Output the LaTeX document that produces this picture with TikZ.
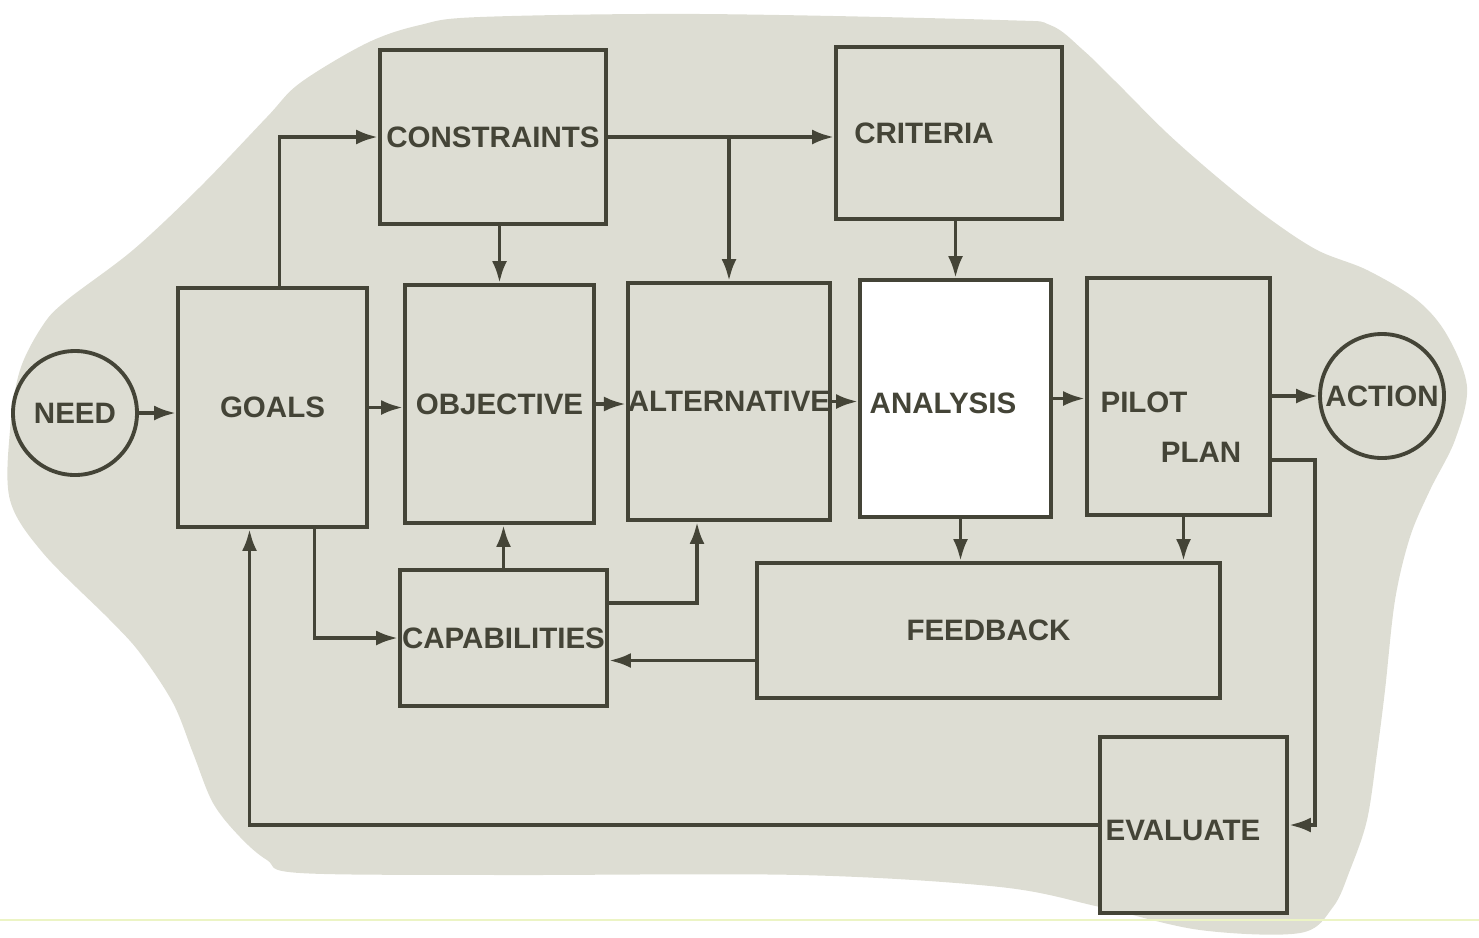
\documentclass[tikz,border=0pt]{standalone}
\usepackage{fontspec}
\setmainfont{Liberation Sans}
\usepackage{tikz}
\usetikzlibrary{arrows.meta,positioning,calc}
\usepackage{xcolor}
\definecolor{blobgray}{RGB}{221,221,211}
\definecolor{inkgray}{RGB}{68,68,55}
\definecolor{scanline}{RGB}{236,244,196}

\begin{document}
\begin{tikzpicture}[box/.style={draw=inkgray, line width=1.1pt, fill=blobgray, inner sep=0pt},
  disc/.style={draw=inkgray, line width=1.1pt, circle, minimum size=1.24cm, inner sep=0pt},
  lbl/.style={text=inkgray, font=\fontsize{8.4}{10}\selectfont\bfseries, inner sep=0pt},
  flow/.style={draw=inkgray, line width=1.1pt, -{Latex[length=2.2mm,width=1.5mm]}},
  >=Latex]
\useasboundingbox (0,0) rectangle (14.79,9.37);
\fill[blobgray] plot[smooth cycle, tension=0.55] coordinates {
  (4.80,9.20) (7.00,9.23) (10.00,9.17) (10.50,9.12) (10.83,8.87) (11.17,8.54) (11.67,8.04)
  (12.17,7.60) (12.67,7.20) (13.17,6.87) (13.67,6.67) (14.17,6.37) (14.47,6.02) (14.67,5.50)
  (14.55,4.97) (14.30,4.47) (14.10,4.00) (13.95,3.37) (13.85,2.47) (13.77,1.84) (13.67,1.17)
  (13.50,0.67) (13.33,0.30) (13.00,0.04) (12.00,0.07) (11.00,0.30) (10.00,0.50) (8.00,0.62)
  (5.00,0.62) (3.00,0.64) (2.67,0.77) (2.40,1.00) (2.13,1.34) (1.93,1.84) (1.73,2.34)
  (1.40,2.84) (1.10,3.17) (0.43,3.84) (0.10,4.37) (0.10,5.07) (0.20,5.67) (0.43,6.12)
  (0.67,6.37) (1.33,6.87) (2.00,7.50) (2.67,8.20) (3.00,8.54) (3.67,8.94) (4.20,9.12)};
\draw[scanline, line width=0.6pt] (0,0.17) -- (14.79,0.17);

\node[disc, lbl] (need) at (0.75,5.24) {NEED};
\node[box, lbl, minimum width=1.89cm, minimum height=2.39cm] (goals) at (2.725,5.295) {GOALS};
\node[box, lbl, minimum width=2.26cm, minimum height=1.74cm] (cons) at (4.93,8.00) {CONSTRAINTS};
\node[box, minimum width=2.26cm, minimum height=1.72cm] (crit) at (9.49,8.04) {};
\node[lbl] (crittxt) at (9.24,8.04) {CRITERIA};
\node[box, lbl, minimum width=1.89cm, minimum height=2.38cm] (obj) at (4.995,5.33) {OBJECTIVE};
\node[box, lbl, minimum width=1.94cm, minimum height=2.37cm] (alt) at (7.29,5.355) {ALTERNATIVE};
\node[box, fill=white, minimum width=1.91cm, minimum height=2.37cm] (ana) at (9.555,5.385) {};
\node[lbl] (anatxt) at (9.43,5.34) {ANALYSIS};
\node[box, minimum width=1.83cm, minimum height=2.37cm] (pilot) at (11.785,5.405) {};
\node[lbl] (pilottxt) at (11.44,5.35) {PILOT};
\node[lbl] (plantxt) at (12.01,4.85) {PLAN};
\node[disc, lbl] (action) at (13.82,5.41) {ACTION};
\node[box, lbl, minimum width=2.07cm, minimum height=1.36cm] (cap) at (5.035,2.99) {CAPABILITIES};
\node[box, lbl, minimum width=4.63cm, minimum height=1.35cm] (feed) at (9.885,3.065) {FEEDBACK};
\node[box, minimum width=1.87cm, minimum height=1.76cm] (eval) at (11.935,1.12) {};
\node[lbl] (evaltxt) at (11.83,1.07) {EVALUATE};

\coordinate (pr) at (13.15,4.77);

\draw[flow] (need.east) -- (need.east -| goals.west);
\draw[flow] ([xshift=0.7mm]goals.north) |- (cons.west);
\draw[flow] (cons.east) -- (cons.east -| crit.west);
\draw[flow] (cons.east -| alt.north) -- (alt.north);
\draw[flow] (cons.south -| obj.north) -- (obj.north);
\draw[flow] (crit.south -| ana.north) -- (ana.north);
\draw[flow] (goals.east) -- (goals.east -| obj.west);
\draw[flow] (obj.east) -- (obj.east -| alt.west);
\draw[flow] (alt.east) -- (alt.east -| ana.west);
\draw[flow] (ana.east) -- (ana.east -| pilot.west);
\draw[flow] (pilot.east |- action) -- (action.west);
\draw[flow] (pilot.east |- pr) -- (pr) |- (eval.east);
\draw[flow] (eval.west) -| ([xshift=-2.3mm]goals.south);
\draw[flow] ([xshift=4.2mm]goals.south) |- (cap.west);
\draw[flow] (cap.north) -- (cap.north |- obj.south);
\draw[flow] ([yshift=3.5mm]cap.east) -| ([xshift=-3.2mm]alt.south);
\draw[flow] ([yshift=-3mm]feed.west) -- ([yshift=-3mm]feed.west -| cap.east);
\draw[flow] ([xshift=0.5mm]ana.south) -- ([xshift=0.5mm]ana.south |- feed.north);
\draw[flow] ([xshift=0.5mm]pilot.south) -- ([xshift=0.5mm]pilot.south |- feed.north);
\end{tikzpicture}
\end{document}
